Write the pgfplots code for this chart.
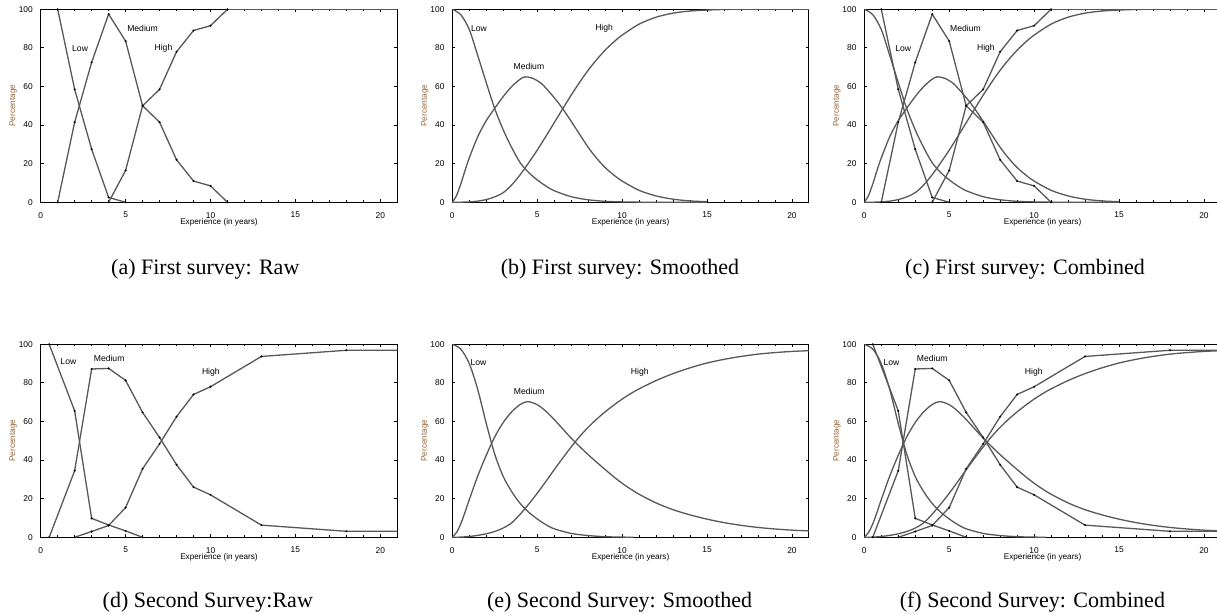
\documentclass[border=0pt]{standalone}
\usepackage{fontspec}
\setmainfont{Liberation Serif}
\setsansfont{Liberation Sans}
\usepackage{pgfplots}
\usepackage{pgfplotstable}
\pgfplotsset{compat=1.18}

\definecolor{curve}{RGB}{88,88,88}
\definecolor{ylab}{RGB}{150,100,55}

% ---------- First survey, raw ----------
\pgfplotstableread{
x y
1 100
2 58.5
3 27.5
4 2.5
5 0
}\rawALow
\pgfplotstableread{
x y
1 0
2 41.5
3 72.5
4 97.5
5 83.5
6 50
7 41.5
8 22
9 11
10 8.5
11 0
}\rawAMed
\pgfplotstableread{
x y
4 0
5 16.5
6 50
7 58.5
8 78
9 89
10 91.5
11 100
25 100
}\rawAHigh
% ---------- First survey, smoothed ----------
\pgfplotstableread{
x y
0 100
0.5 97.2
1 89.5
1.5 76
2 62
2.5 48.5
3 37.5
3.5 28.3
4 20.5
4.5 15.4
5 11.6
5.5 8.5
6 6
7 2.9
8 1.3
9 0.5
10 0.2
11 0.08
12 0.03
15 0
}\smALow
\pgfplotstableread{
x y
0 0
0.25 3.5
0.5 9.5
0.75 16.5
1 23
1.5 34
2 42.3
2.5 48.7
3 54.8
3.5 60
4 63.8
4.3 65
4.75 64.2
5.25 61.5
5.75 56.8
6.25 51.5
6.5 48.5
7 42
7.5 35.2
8 28.5
8.5 22.8
9 18
9.5 14.2
10 11
11 6.2
12 3.3
13 1.6
14 0.7
15 0.3
}\smAMed
\pgfplotstableread{
x y
0 0
0.5 0.05
1 0.2
1.5 0.6
2 1.4
2.5 2.8
3 5
3.5 9
4 14.3
4.5 20.5
5 27
5.5 34
6 41.2
6.5 48.4
7 55.5
7.5 62.2
8 68.4
8.5 73.9
9 78.8
9.5 83
10 86.6
11 92.3
12 95.9
13 98
14 99.1
15 99.6
16 99.9
17 100
21 100
}\smAHigh
% ---------- Second survey, raw ----------
\pgfplotstableread{
x y
0.5 100
2 65.5
3 9.8
4 6.4
5 3.3
6 0
}\rawDLow
\pgfplotstableread{
x y
0.5 0
2 34.5
3 87.2
4 87.5
5 81.3
6 64.7
7 51.7
8 37.6
9 26
10 22
13 6.3
18 3.1
25 3.1
}\rawDMed
\pgfplotstableread{
x y
2 0
3 3
4 6.1
5 15.4
6 35.5
7 48.4
8 62.5
9 74
10 78
13 93.7
18 96.9
25 96.9
}\rawDHigh
% ---------- Second survey, smoothed ----------
\pgfplotstableread{
x y
0 100
0.5 97.5
1 90
1.5 76.5
2 59
2.5 43
3 31.5
3.5 23.6
4 17.5
4.5 13
5 9.5
5.5 6.6
6 4.4
7 2
8 0.9
9 0.3
10 0.1
10.7 0
}\smELow
\pgfplotstableread{
x y
0 0
0.25 2.5
0.5 7
0.75 13
1 19.5
1.5 31.8
2 42.5
2.5 52
3 59.5
3.5 65
4 68.8
4.45 70.3
5 68.7
5.5 65.4
6 61
6.5 56.2
7 51.4
7.5 47
8 42.8
8.5 38.9
9 35.1
9.5 31.4
10 28
10.5 25
11 22.3
12 17.8
13 14.3
14 11.6
15 9.4
16 7.6
17 6.2
18 5.1
19 4.3
20 3.7
21 3.3
}\smEMed
\pgfplotstableread{
x y
0 0
0.5 0.1
1 0.4
1.5 1
2 1.8
2.5 3
3 4.8
3.5 7.5
4 12
4.5 17.2
5 22.8
5.5 28.8
6 35
6.5 41
7 46.8
7.5 52.2
8 57
8.5 61.2
9 65
9.5 68.4
10 71.6
10.5 74.4
11 76.9
12 81.2
13 84.8
14 87.8
15 90.3
16 92.2
17 93.7
18 94.9
19 95.7
20 96.3
21 96.7
}\smEHigh

\pgfplotsset{
  survey/.style={
    scale only axis, width=178.3pt, height=96.5pt,
    xmin=0, xmax=21, ymin=0, ymax=100,
    xtick={0,5,10,15,20}, ytick={0,20,40,60,80,100},
    minor x tick num=4,
    tick align=inside,
    major tick length=1.5pt, minor tick length=1.1pt,
    axis line style={black, line width=0.5pt},
    tick style={black, line width=0.4pt},
    font=\sffamily\fontsize{4.1}{5}\selectfont,
    tick label style={font=\sffamily\fontsize{4.2}{5}\selectfont},
    /pgf/number format/assume math mode=true,
    xlabel={Experience (in years)},
    ylabel={Percentage},
    every axis x label/.style={at={(axis description cs:0.5,-0.104)}, anchor=center},
    every axis y label/.style={at={(axis description cs:-0.077,0.5)}, anchor=center, rotate=90, text=ylab},
    xticklabel style={yshift=-1.4pt},
    yticklabel style={xshift=-0.4pt},
  },
  rawline/.style={color=curve, line width=0.65pt, mark=*, mark size=0.45pt, mark options={fill=black, draw=black, line width=0.1pt}},
  smline/.style={color=curve, line width=0.65pt, smooth, no marks},
}
\newcommand{\lbl}[3]{\node[font=\sffamily\fontsize{4.3}{5}\selectfont, inner sep=0pt] at (axis cs:#1,#2) {#3};}

\begin{document}
\begin{tikzpicture}
% (a)
\begin{axis}[survey, at={(20.35pt,205.35pt)}, anchor=south west]
\addplot[rawline] table {\rawALow};
\addplot[rawline] table {\rawAMed};
\addplot[rawline] table {\rawAHigh};
\lbl{2.32}{79.8}{Low}
\lbl{6.0}{90.2}{Medium}
\lbl{7.23}{79.8}{High}
\end{axis}
% (b)
\begin{axis}[survey, at={(226.15pt,205.35pt)}, anchor=south west]
\addplot[smline] table {\smALow};
\addplot[smline] table {\smAMed};
\addplot[smline] table {\smAHigh};
\lbl{1.57}{90.2}{Low}
\lbl{4.51}{70.3}{Medium}
\lbl{8.94}{90.2}{High}
\end{axis}
% (c)
\begin{axis}[survey, at={(432.15pt,205.35pt)}, anchor=south west]
\addplot[rawline] table {\rawALow};
\addplot[rawline] table {\rawAMed};
\addplot[rawline] table {\rawAHigh};
\addplot[smline] table {\smALow};
\addplot[smline] table {\smAMed};
\addplot[smline] table {\smAHigh};
\lbl{2.29}{79.8}{Low}
\lbl{5.96}{90.2}{Medium}
\lbl{7.16}{79.8}{High}
\end{axis}
% (d)
\begin{axis}[survey, at={(20.35pt,37.85pt)}, anchor=south west]
\addplot[rawline] table {\rawDLow};
\addplot[rawline] table {\rawDMed};
\addplot[rawline] table {\rawDHigh};
\lbl{1.63}{91}{Low}
\lbl{4.03}{92.7}{Medium}
\lbl{10.02}{85.3}{High}
\end{axis}
% (e)
\begin{axis}[survey, at={(226.15pt,37.85pt)}, anchor=south west]
\addplot[smline] table {\smELow};
\addplot[smline] table {\smEMed};
\addplot[smline] table {\smEHigh};
\lbl{1.54}{90.7}{Low}
\lbl{4.53}{75.5}{Medium}
\lbl{11.04}{85.3}{High}
\end{axis}
% (f)
\begin{axis}[survey, at={(432.15pt,37.85pt)}, anchor=south west]
\addplot[rawline] table {\rawDLow};
\addplot[rawline] table {\rawDMed};
\addplot[rawline] table {\rawDHigh};
\addplot[smline] table {\smELow};
\addplot[smline] table {\smEMed};
\addplot[smline] table {\smEHigh};
\lbl{1.6}{90.7}{Low}
\lbl{4.0}{92.7}{Medium}
\lbl{9.98}{85.3}{High}
\end{axis}
% captions
\begin{scope}[every node/.style={anchor=base, inner sep=0pt, font=\fontsize{11}{13}\selectfont}]
\node at (102.65pt,169.25pt) {(a) First survey: Raw};
\node at (310pt,169.25pt) {(b) First survey: Smoothed};
\node at (512.5pt,169.25pt) {(c) First survey: Combined};
\node at (103.9pt,2.85pt) {(d) Second Survey:Raw};
\node at (309.8pt,2.85pt) {(e) Second Survey: Smoothed};
\node at (516.2pt,2.85pt) {(f) Second Survey: Combined};
\end{scope}
\pgfresetboundingbox
\path[use as bounding box] (0pt,0pt) rectangle (608.5pt,306.5pt);
\end{tikzpicture}
\end{document}
